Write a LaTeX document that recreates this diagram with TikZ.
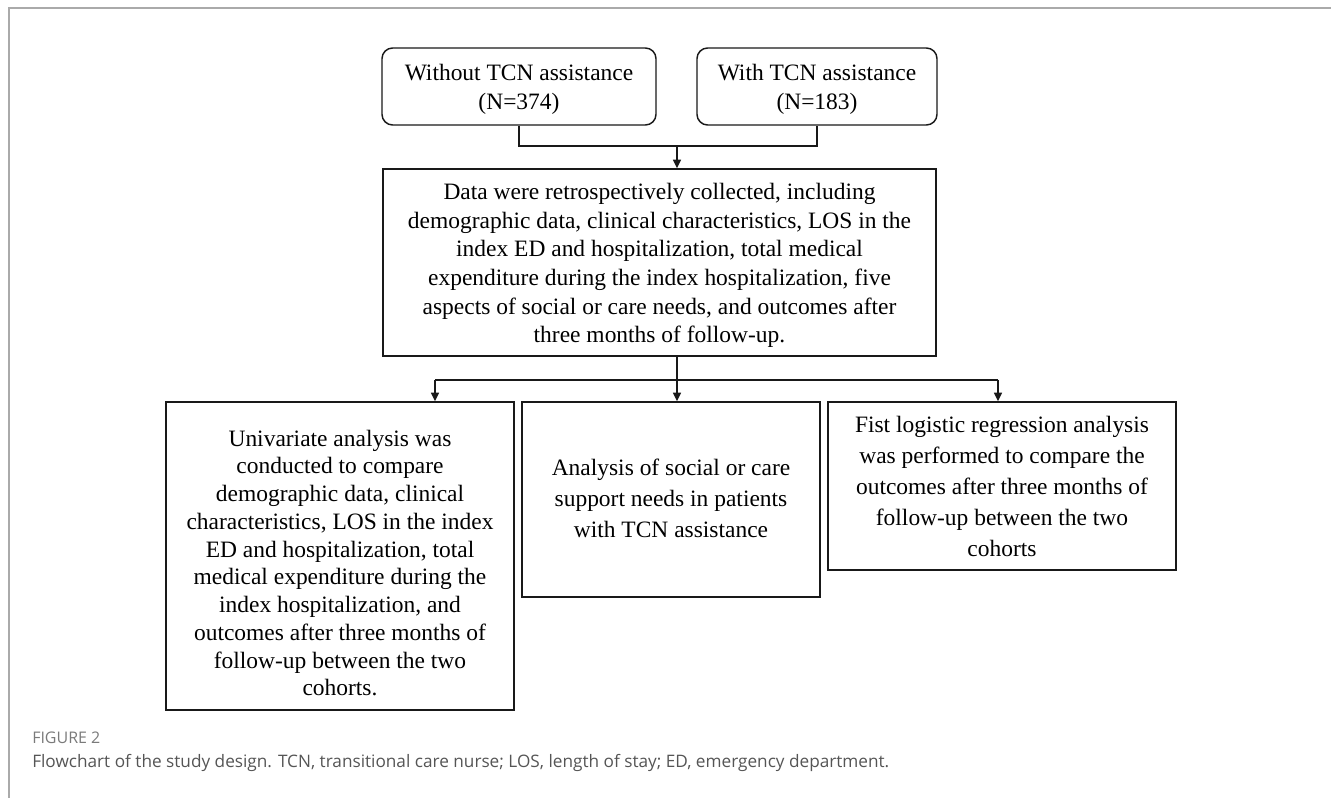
\documentclass[tikz,border=0pt]{standalone}
\usepackage{fontspec}
\setmainfont{Liberation Serif}
\newfontfamily\capfont{Open Sans}
\usetikzlibrary{arrows.meta}
\definecolor{framegray}{HTML}{AAAAAA}
\definecolor{capgray}{HTML}{555555}
\definecolor{figgray}{HTML}{7A7A7A}
\tikzset{
  flowbox/.style={draw=black!90, line width=1.1pt, inner sep=0pt},
  startbox/.style={flowbox, rounded corners=8pt},
  txt/.style={align=center, inner sep=0pt, font=\fontsize{17.6}{23.25}\selectfont},
  conn/.style={draw=black!90, line width=1.1pt},
  arr/.style={conn, -{Triangle[length=6.5pt,width=6pt]}},
}
\begin{document}
\begin{tikzpicture}[x=0.75pt,y=-0.75pt]
\useasboundingbox (0,0) rectangle (1331,798);
% frame
\draw[framegray, line width=1.5pt] (9,798) -- (9,8) -- (1331,8);

% boxes
\node[startbox, minimum width=274*0.75pt, minimum height=77*0.75pt] (b1) at (519,86.5) {};
\node[startbox, minimum width=240*0.75pt, minimum height=77*0.75pt] (b2) at (817,86.5) {};
\node[flowbox, minimum width=553*0.75pt, minimum height=187*0.75pt] (b3) at (659.5,262.5) {};
\node[flowbox, minimum width=348*0.75pt, minimum height=308*0.75pt] (b4) at (340,556) {};
\node[flowbox, minimum width=298*0.75pt, minimum height=195*0.75pt] (b5) at (671,499.5) {};
\node[flowbox, minimum width=348*0.75pt, minimum height=168*0.75pt] (b6) at (1002,486) {};

% texts
\node[txt, font=\fontsize{17.6}{21.75}\selectfont] (t1) at ([yshift=-2.3pt]b1.center)
  {Without TCN assistance\\(N=374)};
\node[txt, font=\fontsize{17.6}{21.75}\selectfont] (t2) at ([yshift=-2.3pt]b2.center)
  {With TCN assistance\\(N=183)};
\node[txt, font=\fontsize{17.6}{21.4}\selectfont] (t3) at ([yshift=-2.3pt]b3.center)
  {Data were retrospectively collected, including\\
   demographic data, clinical characteristics, LOS in the\\
   index ED and hospitalization, total medical\\
   expenditure during the index hospitalization, five\\
   aspects of social or care needs, and outcomes after\\
   three months of follow-up.};
\node[txt, font=\fontsize{17.6}{20.8}\selectfont] (t4) at ([yshift=-5.3pt]b4.center)
  {Univariate analysis was\\
   conducted to compare\\
   demographic data, clinical\\
   characteristics, LOS in the index\\
   ED and hospitalization, total\\
   medical expenditure during the\\
   index hospitalization, and\\
   outcomes after three months of\\
   follow-up between the two\\
   cohorts.};
\node[txt] (t5) at ([yshift=0.5pt]b5.center)
  {Analysis of social or care\\
   support needs in patients\\
   with TCN assistance};
\node[txt] (t6) at (b6.center)
  {Fist logistic regression analysis\\
   was performed to compare the\\
   outcomes after three months of\\
   follow-up between the two\\
   cohorts};

% connectors
\coordinate (j1) at (677,146);
\draw[conn] (b1.south) |- (j1) -| (b2.south);
\draw[arr] (j1) -- (j1 |- b3.north);
\coordinate (j2) at (677,380);
\coordinate (jl) at (435,380);
\coordinate (jr) at (998,380);
\draw[conn] (j2 |- b3.south) -- (j2);
\draw[conn] (jl) -- (jr);
\draw[arr] (j2) -- (j2 |- b5.north);
\draw[arr] (jl) -- (jl |- b4.north);
\draw[arr] (jr) -- (jr |- b6.north);

% caption
\node[anchor=west, inner sep=0pt, text=figgray, font=\capfont\fontsize{12}{14}\selectfont] (fig) at (32,738) {FIGURE 2};
\node[anchor=west, inner sep=0pt, text=capgray, font=\capfont\fontsize{12.9}{15}\selectfont] (cap) at (32,763)
  {Flowchart of the study design. TCN, transitional care nurse; LOS, length of stay; ED, emergency department.};
\end{tikzpicture}
\end{document}
